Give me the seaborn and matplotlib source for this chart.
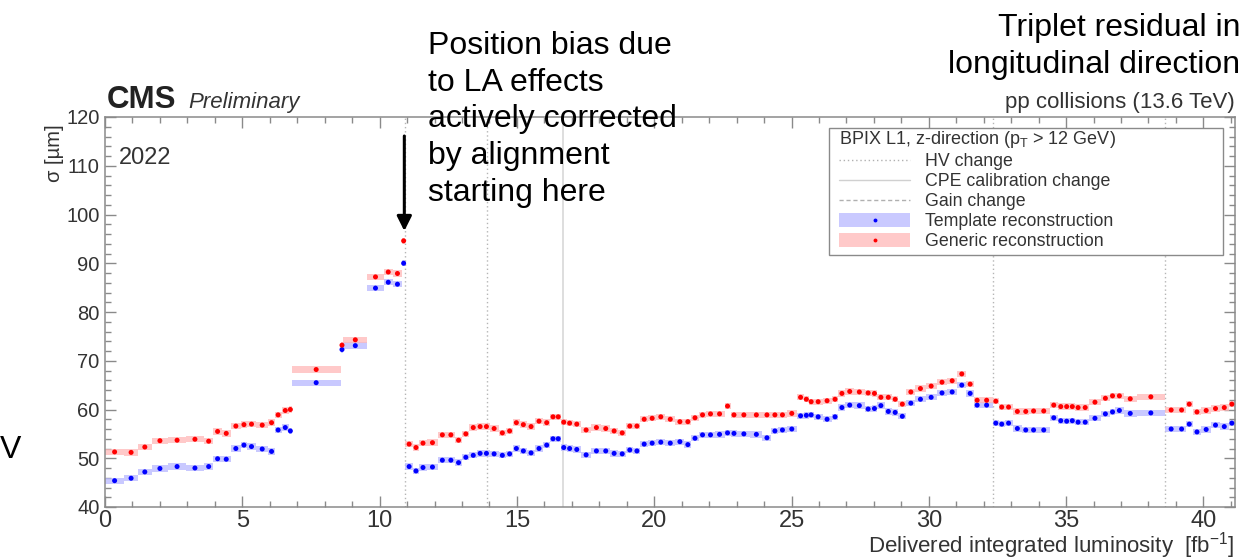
import numpy as np
import pandas as pd
import matplotlib
matplotlib.use("Agg")
import matplotlib.pyplot as plt
from matplotlib.ticker import MultipleLocator
from matplotlib.lines import Line2D
from matplotlib.patches import Patch, Rectangle
import seaborn as sns

# Luminosity bin edges [fb^-1] (contiguous bins, one value per bin)
lumi_edges = [
    0.0, 0.7, 1.2, 1.7, 2.3, 2.95, 3.6, 3.95, 4.25, 4.58, 4.95, 5.17, 5.5, 5.95,
    6.18, 6.43, 6.70, 6.80, 8.58, 8.68, 9.55, 10.15, 10.48, 10.82, 10.93,
    11.22, 11.43, 11.73, 12.12, 12.45, 12.74, 13.01, 13.27, 13.55, 13.77,
    14.01, 14.33, 14.61, 14.86, 15.10, 15.37, 15.66, 15.95, 16.22, 16.41,
    16.60, 16.81, 17.03, 17.33, 17.71, 18.08, 18.39, 18.69, 18.98, 19.24,
    19.50, 19.77, 20.08, 20.40, 20.77, 21.10, 21.35, 21.62, 21.90, 22.20,
    22.56, 22.78, 23.03, 23.50, 23.94, 24.27, 24.52, 24.82, 25.20, 25.46,
    25.62, 25.81, 26.13, 26.46, 26.71, 26.96, 27.28, 27.66, 27.92, 28.12,
    28.39, 28.66, 28.89, 29.18, 29.51, 29.88, 30.29, 30.67, 31.03, 31.37,
    31.64, 31.88, 32.33,
    32.55, 32.76, 33.05, 33.40, 33.66, 33.97, 34.40, 34.70, 34.91, 35.13,
    35.32, 35.55, 35.84, 36.26, 36.60, 36.78, 37.10, 37.57, 38.60,
    39.05, 39.36, 39.61, 39.92, 40.28, 40.60, 40.92, 41.15,
]

# Triplet residual width sigma [um], generic reconstruction
sigma_generic = [
    51.3, 51.2, 52.3, 53.6, 53.7, 53.9, 53.5, 55.5, 55.1, 56.6, 56.9, 57.0,
    56.8, 57.3, 58.9, 59.8, 60.0, 68.2, 73.2, 74.3, 87.2, 88.2, 87.9, 94.6,
    52.9, 52.2, 53.1, 53.2, 54.8, 54.8, 53.7, 55.0, 56.3, 56.5,
    56.5, 56.1, 55.2, 55.6, 57.3, 56.9, 56.5, 57.6, 57.3, 58.5,
    58.5, 57.4, 57.2, 57.0, 55.8, 56.3, 56.1, 55.6, 55.2, 56.6,
    56.6, 58.0, 58.2, 58.5, 58.0, 57.5, 57.5, 58.3, 58.9, 59.1,
    59.1, 60.7, 58.9, 58.9, 58.9, 58.9, 58.9, 58.9, 59.2, 62.5,
    62.1, 61.6, 61.6, 61.8, 62.1, 63.3, 63.7, 63.6, 63.4, 63.3,
    62.5, 62.5, 62.1, 61.1, 63.6, 64.3, 64.8, 65.6, 65.9, 67.3,
    65.2, 61.9, 61.9,
    61.7, 60.5, 60.5, 59.6, 59.6, 59.7, 59.7, 60.9, 60.6, 60.6,
    60.6, 60.4, 60.4, 61.5, 62.3, 62.8, 62.8, 62.2, 62.6,
    59.9, 59.9, 61.1, 59.5, 59.8, 60.2, 60.4, 61.1,
]

# Triplet residual width sigma [um], template reconstruction
sigma_template = [
    45.4, 45.9, 47.2, 47.9, 48.3, 48.0, 48.3, 49.9, 49.8, 52.0, 52.7, 52.4,
    51.9, 51.4, 55.8, 56.3, 55.6, 65.5, 72.3, 73.1, 84.9, 86.1, 85.7, 90.0,
    48.3, 47.4, 48.1, 48.2, 49.6, 49.6, 49.1, 50.2, 50.6, 51.0,
    51.0, 50.9, 50.6, 50.9, 52.0, 51.5, 51.1, 52.0, 52.7, 54.0,
    54.0, 52.2, 52.0, 51.8, 50.7, 51.5, 51.5, 51.0, 50.9, 51.7,
    51.5, 52.9, 53.1, 53.3, 53.1, 53.4, 52.8, 54.1, 54.8, 54.8,
    54.9, 55.2, 55.1, 55.0, 54.9, 54.2, 55.6, 55.8, 56.0, 58.7,
    58.8, 58.9, 58.5, 58.0, 58.5, 60.4, 60.9, 60.8, 60.1, 60.2,
    60.8, 59.6, 59.4, 58.6, 61.3, 62.1, 62.5, 63.4, 63.6, 65.0,
    63.3, 60.9, 60.9,
    57.2, 57.0, 57.2, 56.1, 55.8, 55.8, 55.8, 58.3, 57.7, 57.6,
    57.7, 57.4, 57.4, 58.2, 59.1, 59.5, 59.8, 59.2, 59.3,
    56.0, 56.0, 57.0, 55.4, 55.9, 56.8, 56.5, 57.2,
]

sigma_unc = 0.65  # half-height of the uncertainty boxes [um]

# Detector condition changes [fb^-1]
hv_changes = [10.93, 13.90, 32.33, 38.60]
cpe_changes = [16.69]
alignment_start = 10.93

reco_labels = ["Template reconstruction", "Generic reconstruction"]
point_colors = {"Template reconstruction": "#0000ff", "Generic reconstruction": "#ff0000"}
box_colors = {"Template reconstruction": "#b8b8ff", "Generic reconstruction": "#ffb8b8"}

edges = np.asarray(lumi_edges)
centers = 0.5 * (edges[:-1] + edges[1:])
widths = np.diff(edges)

df = pd.concat([
    pd.DataFrame({"lumi": centers, "width": widths, "sigma": sigma_template,
                  "reco": reco_labels[0]}),
    pd.DataFrame({"lumi": centers, "width": widths, "sigma": sigma_generic,
                  "reco": reco_labels[1]}),
], ignore_index=True)

sns.set_theme(style="ticks")
plt.rcParams["font.family"] = ["Liberation Sans", "DejaVu Sans"]
plt.rcParams["mathtext.fontset"] = "custom"
plt.rcParams["mathtext.rm"] = "Liberation Sans"
plt.rcParams["mathtext.it"] = "Liberation Sans:italic"

W, H = 1254, 560
fig = plt.figure(figsize=(W / 100, H / 100), dpi=100)
ax = fig.add_axes([105 / W, 53 / H, 1130 / W, 390 / H])

# condition-change markers
for x in hv_changes:
    ax.axvline(x, color="#b5b5b5", lw=1.0, ls=(0, (1, 2)), zorder=1)
for x in cpe_changes:
    ax.axvline(x, color="#d8d8d8", lw=1.2, ls="-", zorder=1)

# uncertainty boxes spanning each luminosity bin
for reco in reco_labels:
    sub = df[df["reco"] == reco]
    ax.bar(sub["lumi"], 2 * sigma_unc, bottom=sub["sigma"] - sigma_unc,
           width=sub["width"], color=box_colors[reco], alpha=0.75,
           linewidth=0, zorder=2)

sns.scatterplot(data=df, x="lumi", y="sigma", hue="reco", palette=point_colors,
                s=13, linewidth=0, legend=False, ax=ax, zorder=3)

ax.set_xlim(0, 41.15)
ax.set_ylim(40, 120)
ax.xaxis.set_major_locator(MultipleLocator(5))
ax.xaxis.set_minor_locator(MultipleLocator(1))
ax.yaxis.set_major_locator(MultipleLocator(10))
ax.yaxis.set_minor_locator(MultipleLocator(2))
ax.tick_params(which="both", direction="in", top=True, right=True,
               color="#8a8a8a", width=1)
ax.tick_params(which="major", length=8, labelcolor="#333333")
ax.tick_params(which="minor", length=4)
ax.tick_params(axis="x", which="major", pad=2, labelsize=17)
ax.tick_params(axis="y", which="major", pad=4, labelsize=14.5)
ax.set_xlabel("")
ax.set_ylabel("")
for sp in ax.spines.values():
    sp.set_color("#8a8a8a")
    sp.set_linewidth(1.1)

# axis titles
fig.text(1235 / W, 1 - 546 / H, "Delivered integrated luminosity  [fb$^{-1}$]",
         ha="right", va="center", fontsize=16, color="#333333")
fig.text(54 / W, 1 - 124 / H, "σ [µm]", rotation=90, ha="center", va="top",
         fontsize=14.5, color="#333333")

# experiment labels
fig.text(107 / W, 1 - 108 / H, "CMS", fontsize=22.5, fontweight="bold",
         ha="left", va="baseline", color="#222222")
fig.text(188 / W, 1 - 108 / H, "Preliminary", fontsize=16, fontstyle="italic",
         ha="left", va="baseline", color="#333333")
fig.text(1235 / W, 1 - 108 / H, "pp collisions (13.6 TeV)", fontsize=16,
         ha="right", va="baseline", color="#333333")
ax.text(0.012, 0.895, "2022", transform=ax.transAxes, fontsize=17,
        ha="left", va="center", color="#333333")

# legend (drawn frameless, box added separately)
handles = [
    Line2D([], [], color="#b0b0b0", lw=1.0, ls=(0, (1, 2))),
    Line2D([], [], color="#d0d0d0", lw=1.0, ls="-"),
    Line2D([], [], color="#b0b0b0", lw=1.0, ls=(0, (3, 2))),
    (Patch(facecolor=box_colors[reco_labels[0]], edgecolor="none", alpha=0.75),
     Line2D([], [], marker="o", ls="", ms=2.8, mew=0, color=point_colors[reco_labels[0]])),
    (Patch(facecolor=box_colors[reco_labels[1]], edgecolor="none", alpha=0.75),
     Line2D([], [], marker="o", ls="", ms=2.8, mew=0, color=point_colors[reco_labels[1]])),
]
labels = ["HV change", "CPE calibration change", "Gain change"] + reco_labels


def ax_frac(px, py):
    return (px - 105) / 1130, (507 - py) / 390


box_x0, box_y0 = ax_frac(829, 255)
box_x1, box_y1 = ax_frac(1223, 128)
ax.add_patch(Rectangle((box_x0, box_y0), box_x1 - box_x0, box_y1 - box_y0,
                       transform=ax.transAxes, facecolor="white",
                       edgecolor="#8a8a8a", lw=1.0, zorder=4))
leg = ax.legend(handles, labels, loc="upper left",
                bbox_to_anchor=ax_frac(839, 129),
                title="BPIX L1, z-direction (p$_{\\mathrm{T}}$ > 12 GeV)",
                title_fontsize=13, fontsize=12.8, alignment="left",
                frameon=False, handlelength=4.0, handleheight=0.8,
                handletextpad=0.85, labelspacing=0.17, borderpad=0,
                borderaxespad=0)
leg.set_zorder(5)
for t in leg.get_texts():
    t.set_color("#333333")
leg.get_title().set_color("#333333")

# annotations around the plot
fig.text(428 / W, 1 - 31 / H,
         "Position bias due\nto LA effects\nactively corrected\nby alignment\nstarting here",
         ha="left", va="top", fontsize=23, linespacing=1.29, color="black")
fig.text(1240 / W, 1 - 13 / H, "Triplet residual in\nlongitudinal direction",
         ha="right", va="top", fontsize=23, linespacing=1.29,
         multialignment="right", color="black")
fig.text(0 / W, 1 - 450 / H, "V", ha="left", va="center", fontsize=23, color="black")

ax.annotate("", xy=(alignment_start - 0.03, 1 - 231 / H),
            xytext=(alignment_start - 0.03, 1 - 136 / H),
            xycoords=("data", "figure fraction"), textcoords=("data", "figure fraction"),
            arrowprops=dict(arrowstyle="-|>", color="black", lw=2.2,
                            mutation_scale=22, shrinkA=0, shrinkB=0),
            annotation_clip=False)

fig.savefig("out.png", dpi=100)
